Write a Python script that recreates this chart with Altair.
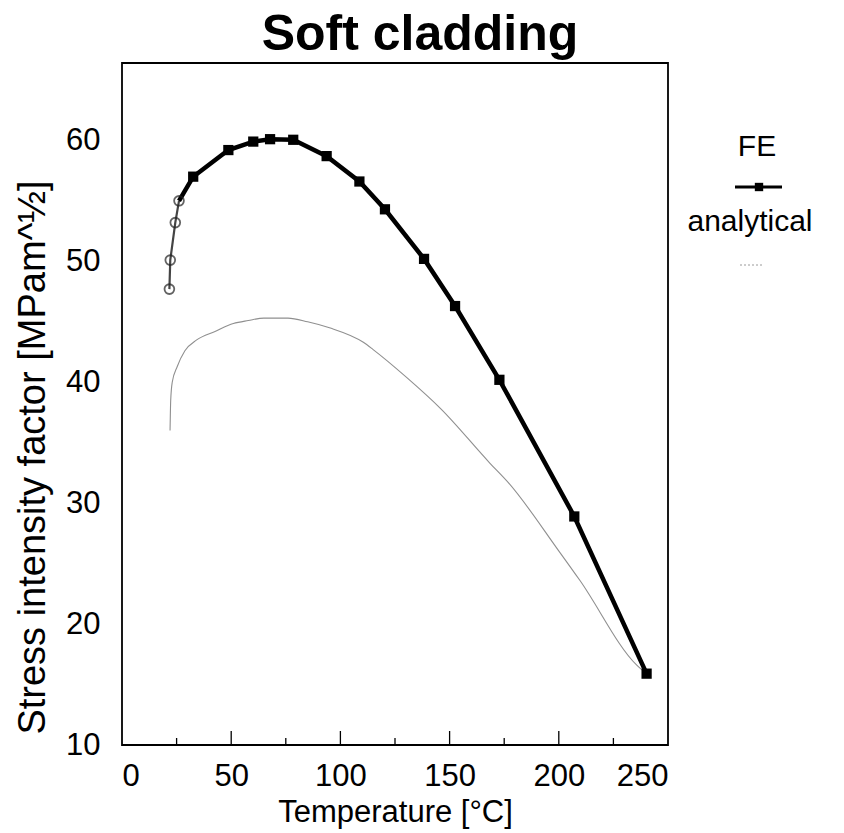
import altair as alt
import pandas as pd

# FE results
fe_temp = [21.7, 22.1, 24.4, 26.1, 32.6, 48.7, 60.1, 67.8, 78.4, 93.7, 108.7, 120.4, 138.3, 152.5, 172.8, 207.1, 240.2]
fe_k    = [47.7, 50.1, 53.2, 55.0, 57.0, 59.2, 59.9, 60.1, 60.05, 58.7, 56.6, 54.3, 50.2, 46.3, 40.2, 28.9, 15.9]
n_open = 4  # first points drawn with open markers / thin line

# analytical curve
an_temp = [22.0, 22.3, 23.0, 25.3, 28.8, 34.2, 42.6, 51.0, 57.8, 65.0, 76.0, 85.0, 95.0, 110.5, 115.0, 130.3, 146.0, 168.5, 176.9, 199.8, 209.7, 235.7, 240.2]
an_k    = [36.0, 38.5, 40.0, 41.3, 42.6, 43.5, 44.2, 44.85, 45.1, 45.3, 45.3, 45.0, 44.5, 43.3, 42.7, 40.4, 37.8, 33.3, 31.7, 26.1, 23.6, 16.6, 15.9]

x_labels = [0, 50, 100, 150, 200, 250]
x_major_ticks = [50, 100, 150, 200]
x_minor_ticks = [25, 75, 125, 175, 225]
y_labels = [10, 20, 30, 40, 50, 60]

FONT = "Liberation Sans"
W, H = 546, 682

fe = pd.DataFrame({"T": fe_temp, "K": fe_k})
fe_open = fe.iloc[:n_open]
fe_solid = fe.iloc[n_open - 1:]
an = pd.DataFrame({"T": an_temp, "K": an_k})

xs = alt.Scale(domain=[0, 250], nice=False)
ys = alt.Scale(domain=[10, 66.4], nice=False)

xax = alt.Axis(values=x_labels, title="Temperature [°C]", domain=False, ticks=False, grid=False,
               labelFont=FONT, labelFontSize=31, labelColor="black", labelPadding=16,
               titleFont=FONT, titleFontSize=31, titleFontWeight="normal", titleColor="black",
               titlePadding=6)
yax = alt.Axis(values=y_labels, title="Stress intensity factor [MPam^½]", domain=False, ticks=False,
               grid=False, labelFont=FONT, labelFontSize=31, labelColor="black", labelPadding=22,
               titleFont=FONT, titleFontSize=38, titleFontWeight="normal", titleColor="black",
               titleX=-89, titleY=394, titleAngle=-90, titleAlign="center", titleBaseline="middle")

base_x = alt.X("T:Q", scale=xs, axis=xax)
base_y = alt.Y("K:Q", scale=ys, axis=yax)

an_line = alt.Chart(an).mark_line(color="#8f8f8f", strokeWidth=1.1, interpolate="monotone").encode(
    x=base_x, y=base_y, order="T:Q")

fe_thin = alt.Chart(fe_open).mark_line(color="#444", strokeWidth=2.2).encode(
    x=alt.X("T:Q", scale=xs), y=alt.Y("K:Q", scale=ys), order="T:Q")
fe_thick = alt.Chart(fe_solid).mark_line(color="black", strokeWidth=4.5).encode(
    x=alt.X("T:Q", scale=xs), y=alt.Y("K:Q", scale=ys), order="T:Q")
fe_open_pts = alt.Chart(fe_open).mark_point(shape="circle", size=95, filled=False, color="#222",
                                             strokeWidth=1.8).encode(
    x=alt.X("T:Q", scale=xs), y=alt.Y("K:Q", scale=ys))
fe_solid_pts = alt.Chart(fe.iloc[n_open:]).mark_point(shape="square", size=105, filled=True,
                                                       color="black", opacity=1).encode(
    x=alt.X("T:Q", scale=xs), y=alt.Y("K:Q", scale=ys))

major = alt.Chart(pd.DataFrame({"t": x_major_ticks})).mark_rule(color="black", strokeWidth=1.3).encode(
    x=alt.X("t:Q", scale=xs), y=alt.value(H), y2=alt.value(H - 14))
minor = alt.Chart(pd.DataFrame({"t": x_minor_ticks})).mark_rule(color="black", strokeWidth=1.3).encode(
    x=alt.X("t:Q", scale=xs), y=alt.value(H), y2=alt.value(H - 7))

one = alt.Data(values=[{"a": 1}])
title_txt = alt.Chart(one).mark_text(text="Soft cladding", font=FONT, fontSize=50, fontWeight="bold",
                                     align="center", baseline="alphabetic", color="black").encode(
    x=alt.value(298), y=alt.value(-13))
leg_fe = alt.Chart(one).mark_text(text="FE", font=FONT, fontSize=30, align="center", baseline="middle",
                                  color="black").encode(x=alt.value(635), y=alt.value(84))
leg_fe_line = alt.Chart(one).mark_rule(color="black", strokeWidth=3).encode(
    x=alt.value(613), x2=alt.value(660), y=alt.value(124))
leg_fe_pt = alt.Chart(one).mark_point(shape="square", size=70, filled=True, color="black", opacity=1).encode(
    x=alt.value(637), y=alt.value(124))
leg_an = alt.Chart(one).mark_text(text="analytical", font=FONT, fontSize=30, align="center",
                                  baseline="middle", color="black").encode(x=alt.value(628), y=alt.value(159))
leg_an_line = alt.Chart(one).mark_rule(color="#9a9a9a", strokeWidth=1, strokeDash=[2, 2]).encode(
    x=alt.value(618), x2=alt.value(642), y=alt.value(202))

chart = alt.layer(
    an_line, fe_thin, fe_thick, fe_open_pts, fe_solid_pts, major, minor,
    title_txt, leg_fe, leg_fe_line, leg_fe_pt, leg_an, leg_an_line
).properties(
    width=W, height=H,
    background="white",
    autosize=alt.AutoSizeParams(type="none"),
    padding={"left": 122, "top": 63, "right": 176, "bottom": 88},
).configure_view(stroke="black", strokeWidth=1.8)

chart.save("out.html", embed_options={"renderer": "svg", "actions": False})
